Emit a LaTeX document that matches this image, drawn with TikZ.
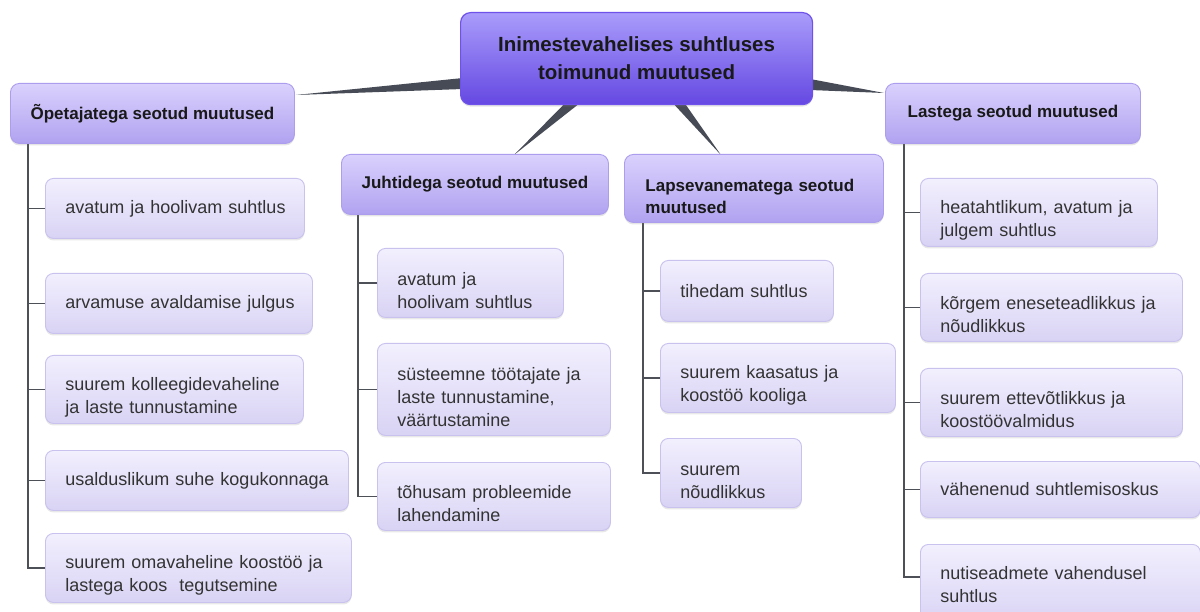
\documentclass[tikz,border=0pt]{standalone}
\usepackage{fontspec}
\setmainfont{Liberation Sans}
\usetikzlibrary{calc,shadows,backgrounds}
\definecolor{kidtop}{HTML}{F2EFFE}
\definecolor{kidbot}{HTML}{D9D3F4}
\definecolor{kidborder}{HTML}{C9C1EE}
\definecolor{kidtext}{HTML}{333333}
\definecolor{headtop}{HTML}{DAD1FD}
\definecolor{headbot}{HTML}{B1A2F0}
\definecolor{headborder}{HTML}{AC9DEE}
\definecolor{roottop}{HTML}{A99CFB}
\definecolor{rootmid}{HTML}{8B76F3}
\definecolor{rootbot}{HTML}{6548E2}
\definecolor{rootborder}{HTML}{6E52EA}
\definecolor{wedgecol}{HTML}{474B55}
\definecolor{treecol}{HTML}{4D5057}
\newcommand{\kline}[1]{\mbox{#1}}
\tikzset{
  kid/.style={draw=kidborder, line width=0.9pt, rounded corners=8pt,
    top color=kidtop, bottom color=kidbot, anchor=north west,
    inner xsep=20pt, inner ysep=0pt, align=left, text=kidtext,
    font=\fontsize{18}{23}\selectfont,
    drop shadow={opacity=0.18, shadow xshift=0pt, shadow yshift=-2pt}},
  ml/.style={execute at begin node={\rule{0pt}{28pt}}},
  head/.style={draw=headborder, line width=0.9pt, rounded corners=9pt,
    top color=headtop, bottom color=headbot, anchor=north west,
    inner xsep=0pt, inner ysep=0pt, align=center, text=black!90,
    font=\bfseries\fontsize{17}{22}\selectfont,
    drop shadow={opacity=0.2, shadow xshift=0pt, shadow yshift=-2pt}},
  rootbox/.style={draw=rootborder, line width=1.2pt, rounded corners=10pt,
    top color=roottop, middle color=rootmid, bottom color=rootbot, anchor=north west,
    inner sep=0pt, align=center, text=black!90,
    font=\bfseries\fontsize{20.5}{28}\selectfont,
    drop shadow={opacity=0.2, shadow xshift=0pt, shadow yshift=-2pt}},
  wedge/.style={fill=wedgecol},
  tree/.style={draw=treecol, line width=1.6pt}
}
\begin{document}
\begin{tikzpicture}[x=1pt,y=-1pt]
\useasboundingbox (0,0) rectangle (1200,612);
\clip (0,0) rectangle (1200,612);

% root
\node[rootbox, minimum width=352pt, minimum height=92pt] (root) at (460,12)
  {Inimestevahelises suhtluses\\toimunud muutused};

% headings
\node[head, minimum width=284pt, minimum height=60pt] (h1) at (10,83) {Õpetajatega seotud muutused};
\node[head, minimum width=267pt, minimum height=60pt] (h2) at (341,154) {Juhtidega seotud muutused};
\node[head, ml, minimum height=68pt, text width=217pt, inner xsep=21pt, align=left] (h3) at (624,154) {\kline{Lapsevanematega seotud}\\muutused};
\node[head, minimum width=255pt, minimum height=60pt] (h4) at (885,83) {Lastega seotud muutused};

% column 1
\node[kid, text width=219pt, minimum height=60pt] (c1) at (45,178) {\kline{avatum ja hoolivam suhtlus}};
\node[kid, text width=227pt, minimum height=60pt] (c2) at (45,273) {\kline{arvamuse avaldamise julgus}};
\node[kid, ml, text width=218pt, minimum height=68pt] (c3) at (45,355) {\kline{suurem kolleegidevaheline}\\\kline{ja laste tunnustamine}};
\node[kid, text width=263pt, minimum height=60pt] (c4) at (45,450) {\kline{usalduslikum suhe kogukonnaga}};
\node[kid, ml, text width=266pt, minimum height=69pt] (c5) at (45,533) {\kline{suurem omavaheline koostöö ja}\\\kline{lastega koos\ \ tegutsemine}};

% column 2
\node[kid, ml, text width=146pt, minimum height=69pt] (d1) at (377,248) {\kline{avatum ja}\\\kline{hoolivam suhtlus}};
\node[kid, ml, text width=193pt, minimum height=92pt] (d2) at (377,343) {\kline{süsteemne töötajate ja}\\\kline{laste tunnustamine,}\\\kline{väärtustamine}};
\node[kid, ml, text width=193pt, minimum height=68pt] (d3) at (377,462) {\kline{tõhusam probleemide}\\\kline{lahendamine}};

% column 3
\node[kid, text width=133pt, minimum height=61pt] (e1) at (660,260) {\kline{tihedam suhtlus}};
\node[kid, ml, text width=195pt, minimum height=69pt] (e2) at (660,343) {\kline{suurem kaasatus ja}\\\kline{koostöö kooliga}};
\node[kid, ml, text width=101pt, minimum height=69pt] (e3) at (660,438) {\kline{suurem}\\\kline{nõudlikkus}};

% column 4
\node[kid, ml, text width=197pt, minimum height=68pt] (f1) at (920,178) {\kline{heatahtlikum, avatum ja}\\\kline{julgem suhtlus}};
\node[kid, ml, text width=222pt, minimum height=68pt] (f2) at (920,273) {\kline{kõrgem eneseteadlikkus ja}\\\kline{nõudlikkus}};
\node[kid, ml, text width=222pt, minimum height=68pt] (f3) at (920,368) {\kline{suurem ettevõtlikkus ja}\\\kline{koostöövalmidus}};
\node[kid, text width=240pt, minimum height=56pt] (f4) at (920,461) {\kline{vähenenud suhtlemisoskus}};
\node[kid, text width=240pt, minimum height=80pt] (f5) at (920,544) {\kline{nutiseadmete vahendusel}\\\kline{suhtlus}};
\coordinate (f5tick) at ($(f5.north west)+(0,33)$);

\begin{scope}[on background layer]
  \fill[white] (0,0) rectangle (1200,612);
  % wedges from root to headings
  \fill[wedge] ($(root.north west)+(3,66)$) -- ($(root.north west)+(3,77)$) -- ($(h1.north east)+(1,12)$) -- cycle;
  \fill[wedge] ($(root.north east)+(-3,67)$) -- ($(root.north east)+(-3,78)$) -- ($(h4.north west)+(-1,10)$) -- cycle;
  \fill[wedge] ($(root.south west)+(106,-3)$) -- ($(root.south west)+(121,-3)$) -- ($(h2.north)+(39,1)$) -- cycle;
  \fill[wedge] ($(root.south west)+(212,-3)$) -- ($(root.south west)+(224,-3)$) -- ($(h3.north)+(-33,1)$) -- cycle;

  % trees
  \coordinate (t1) at ($(h1.south west)+(18,0)$);
  \draw[tree] (t1) |- (c5.west);
  \foreach \n in {c1,c2,c3,c4} \draw[tree] (t1 |- \n.west) -- (\n.west);

  \coordinate (t2) at ($(h2.south west)+(17,0)$);
  \draw[tree] (t2) |- (d3.west);
  \foreach \n in {d1,d2} \draw[tree] (t2 |- \n.west) -- (\n.west);

  \coordinate (t3) at ($(h3.south west)+(19,0)$);
  \draw[tree] (t3) |- (e3.west);
  \foreach \n in {e1,e2} \draw[tree] (t3 |- \n.west) -- (\n.west);

  \coordinate (t4) at ($(h4.south west)+(19,0)$);
  \draw[tree] (t4) |- (f5tick);
  \foreach \n in {f1,f2,f3,f4} \draw[tree] (t4 |- \n.west) -- (\n.west);
\end{scope}
\end{tikzpicture}
\end{document}
